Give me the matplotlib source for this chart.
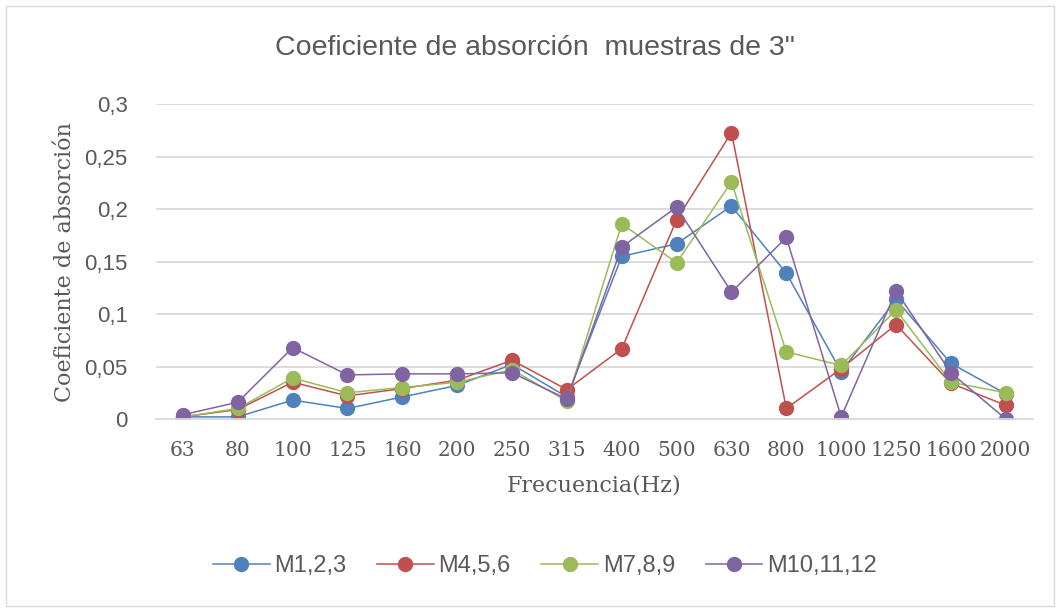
import matplotlib.pyplot as plt
from matplotlib.patches import Rectangle

frecuencias = ["63", "80", "100", "125", "160", "200", "250", "315",
               "400", "500", "630", "800", "1000", "1250", "1600", "2000"]

m123 = [0.002, 0.002, 0.018, 0.010, 0.021, 0.032, 0.052, 0.021,
        0.155, 0.167, 0.203, 0.139, 0.045, 0.114, 0.053, 0.024]
m456 = [0.002, 0.009, 0.035, 0.022, 0.029, 0.037, 0.056, 0.028,
        0.067, 0.190, 0.273, 0.010, 0.048, 0.090, 0.034, 0.013]
m789 = [0.002, 0.010, 0.039, 0.025, 0.030, 0.035, 0.047, 0.017,
        0.186, 0.149, 0.226, 0.064, 0.051, 0.104, 0.035, 0.025]
m101112 = [0.004, 0.016, 0.068, 0.042, 0.043, 0.043, 0.044, 0.019,
           0.164, 0.202, 0.121, 0.173, 0.002, 0.122, 0.044, 0.000]

series = [("M1,2,3", m123, "#4F81BD"),
          ("M4,5,6", m456, "#C0504D"),
          ("M7,8,9", m789, "#9BBB59"),
          ("M10,11,12", m101112, "#8064A2")]

sans = "Liberation Sans"
serif = "DejaVu Serif"
gris = "#595959"

fig = plt.figure(figsize=(10.6, 6.08), dpi=100)
fig.patches.append(Rectangle((0.006, 0.004), 0.988, 0.986, transform=fig.transFigure,
                             fill=False, edgecolor="#D9D9D9", linewidth=1))
ax = fig.add_axes([0.1467, 0.3109, 0.828, 0.5176])

x = range(len(frecuencias))
for nombre, valores, color in series:
    ax.plot(x, valores, color=color, linewidth=1.1, marker="o", markersize=10,
            label=nombre)

ax.set_xlim(-0.5, len(frecuencias) - 0.5)
ax.set_ylim(0, 0.3)
ax.set_yticks([0, 0.05, 0.1, 0.15, 0.2, 0.25, 0.3])
ax.set_yticklabels(["0", "0,05", "0,1", "0,15", "0,2", "0,25", "0,3"],
                   fontfamily=sans, fontsize=16, color=gris)
ax.set_xticks(list(x))
ax.set_xticklabels(frecuencias, fontfamily=serif, fontsize=14.5, color=gris)
ax.tick_params(length=0)
ax.tick_params(axis="x", pad=16)
ax.tick_params(axis="y", pad=20)

ax.grid(axis="y", color="#D9D9D9", linewidth=1.3)
ax.set_axisbelow(True)
for lado in ["top", "right", "left"]:
    ax.spines[lado].set_visible(False)
ax.spines["bottom"].set_color("#D9D9D9")
ax.spines["bottom"].set_linewidth(1.3)

ax.set_xlabel("Frecuencia(Hz)", fontfamily=serif, fontsize=16, color=gris, labelpad=10)
ax.set_ylabel("Coeficiente de absorción", fontfamily=serif, fontsize=16, color=gris,
              labelpad=6)
fig.text(0.505, 0.921, "Coeficiente de absorción  muestras de 3\"", ha="center",
         va="center", fontfamily=sans, fontsize=20.5, color=gris)

ax.legend(loc="center", bbox_to_anchor=(0.4436, -0.468), ncol=4, frameon=False,
          prop={"family": sans, "size": 17}, handlelength=2.4, columnspacing=1.3,
          handletextpad=0.2, labelcolor=gris)

fig.savefig("out.png", dpi=100)
